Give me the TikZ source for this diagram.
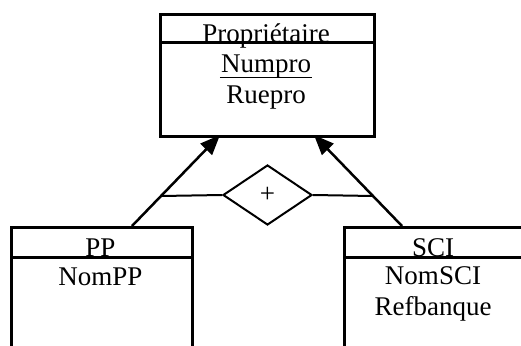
\documentclass[tikz,border=0pt]{standalone}
\usepackage{fontspec}
\setmainfont{Liberation Serif}
\usetikzlibrary{shapes.geometric,arrows.meta}
\tikzset{
  entbox/.style={draw, line width=3pt, rectangle, inner sep=0pt, anchor=north west},
  sepline/.style={line width=3pt},
  lbl/.style={anchor=base, inner sep=0pt, font=\fontsize{27}{32}\selectfont},
  isa/.style={draw, diamond, line width=2pt, inner sep=0pt, minimum width=89pt, minimum height=60pt, font=\fontsize{27}{32}\selectfont},
  link/.style={line width=2pt},
  inh/.style={line width=2.5pt, -{Triangle[length=20pt, width=16pt]}},
  uline/.style={line width=1.4pt}
}
\begin{document}
\begin{tikzpicture}[x=1pt, y=-1pt]
\useasboundingbox (0,0) rectangle (521,345);
\clip (0,0) rectangle (521,345);
% Propriétaire
\node[entbox, minimum width=214pt, minimum height=122pt] (prop) at (159,13) {};
\draw[sepline] (prop.west |- 0,43) -- (prop.east |- 0,43);
\node[lbl] (propt) at (266,42) {Propriétaire};
\node[lbl] (propa) at (266,72) {Numpro};
\draw[uline] ([xshift=-1pt]propa.base west) ++(0,5.5) -- ([xshift=1pt,yshift=-5.5pt]propa.base east);
\node[lbl] (propb) at (266,103) {Ruepro};
% PP
\node[entbox, minimum width=181pt, minimum height=140pt] (pp) at (10,226) {};
\draw[sepline] (pp.west |- 0,257) -- (pp.east |- 0,257);
\node[lbl] (ppt) at (100.5,256) {PP};
\node[lbl] (ppa) at (100.5,285) {NomPP};
% SCI
\node[entbox, minimum width=181pt, minimum height=140pt] (sci) at (343,226) {};
\draw[sepline] (sci.west |- 0,257) -- (sci.east |- 0,257);
\node[lbl] (scit) at (433,256) {SCI};
\node[lbl] (scia) at (433,284) {NomSCI};
\node[lbl] (scib) at (433,315) {Refbanque};
% diamond
\node[isa, aspect=1.48] (dia) at (267.5,195) {+};
\coordinate (jl) at (161,196);
\coordinate (jr) at (373,196);
\coordinate (pps) at (132,226);
\coordinate (scis) at (402,226);
\coordinate (pl) at (220,135);
\coordinate (pr) at (314,135);
\draw[link] (dia.west) -- (jl);
\draw[link] (dia.east) -- (jr);
\draw[inh] (pps) -- (pl);
\draw[inh] (scis) -- (pr);
\end{tikzpicture}
\end{document}
